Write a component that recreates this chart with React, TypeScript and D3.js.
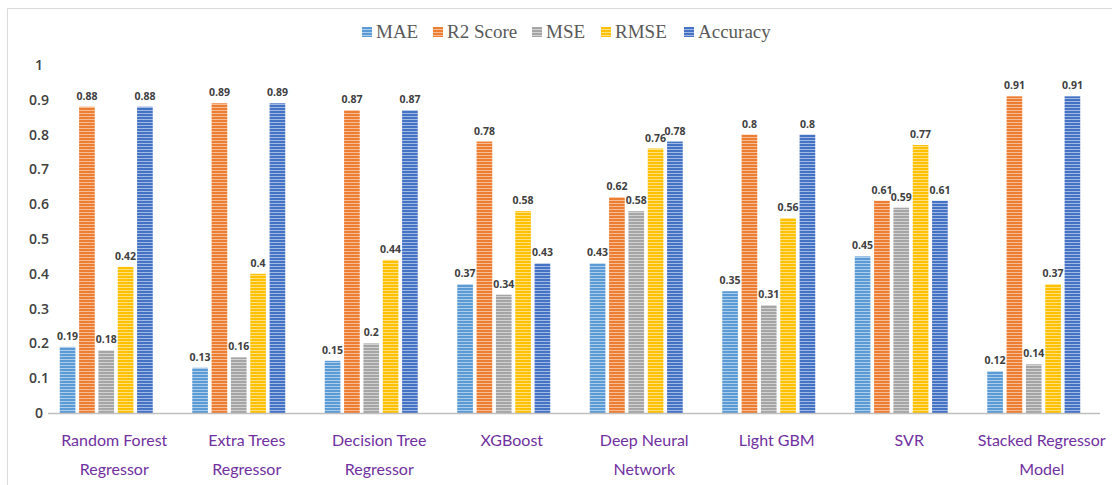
import React from "react";
import * as d3 from "d3";

const categories = [
  ["Random Forest", "Regressor"],
  ["Extra Trees", "Regressor"],
  ["Decision Tree", "Regressor"],
  ["XGBoost"],
  ["Deep Neural", "Network"],
  ["Light GBM"],
  ["SVR"],
  ["Stacked Regressor", "Model"],
];

const seriesNames = ["MAE", "R2 Score", "MSE", "RMSE", "Accuracy"];
const seriesColors = ["#5B9BD5", "#ED7D31", "#A5A5A5", "#FFC000", "#4472C4"];

const mae = [0.19, 0.13, 0.15, 0.37, 0.43, 0.35, 0.45, 0.12];
const r2 = [0.88, 0.89, 0.87, 0.78, 0.62, 0.8, 0.61, 0.91];
const mse = [0.18, 0.16, 0.2, 0.34, 0.58, 0.31, 0.59, 0.14];
const rmse = [0.42, 0.4, 0.44, 0.58, 0.76, 0.56, 0.77, 0.37];
const accuracy = [0.88, 0.89, 0.87, 0.43, 0.78, 0.8, 0.61, 0.91];

const yTicks = [0, 0.1, 0.2, 0.3, 0.4, 0.5, 0.6, 0.7, 0.8, 0.9, 1];

const W = 1112;
const H = 485;

export default function App() {
  const series = [mae, r2, mse, rmse, accuracy];
  const idx = categories.map((_, i) => String(i));

  const x0 = d3.scaleBand<string>().domain(idx).range([40, 1100]).paddingInner(0).paddingOuter(0);
  const groupW = 93;
  const x1 = d3
    .scaleBand<string>()
    .domain(seriesNames)
    .range([0, groupW])
    .paddingInner(0.19);
  const y = d3.scaleLinear().domain([0, 1]).range([413, 65]);

  const groupStart = (i: number) => x0(String(i))! + (x0.bandwidth() - groupW) / 2;

  const legendX = [362, 433, 532, 601, 684];

  return (
    <svg
      width={W}
      height={H}
      style={{ position: "absolute", left: 0, top: 0, background: "#fff" }}
    >
      <defs>
        {seriesColors.map((c, k) => (
          <pattern
            key={k}
            id={`stripe-${k}`}
            patternUnits="userSpaceOnUse"
            width={4}
            height={3}
          >
            <rect width={4} height={3} fill={c} />
            <rect y={2} width={4} height={1} fill="#ffffff" opacity={0.5} />
          </pattern>
        ))}
      </defs>

      {/* frame */}
      <line x1={7.5} x2={W} y1={8.5} y2={8.5} stroke="#d9d9d9" />
      <line x1={7.5} x2={7.5} y1={8.5} y2={H} stroke="#d9d9d9" />

      {/* legend */}
      {seriesNames.map((n, k) => (
        <g key={n} transform={`translate(${legendX[k]},0)`}>
          <rect x={0} y={27} width={10} height={10} fill={`url(#stripe-${k})`} />
          <text
            x={14}
            y={38}
            fontFamily="'Liberation Serif', serif"
            fontSize={19}
            fill="#595959"
          >
            {n}
          </text>
        </g>
      ))}

      {/* y tick labels */}
      {yTicks.map((t) => (
        <text
          key={t}
          x={39}
          y={y(t) + 5}
          textAnchor="middle"
          fontFamily="'Open Sans', sans-serif"
          fontWeight={600}
          fontSize={14}
          fill="#404040"
        >
          {String(t)}
        </text>
      ))}

      {/* bars */}
      {categories.map((_, i) => (
        <g key={i} transform={`translate(${groupStart(i)},0)`}>
          {series.map((vals, k) => {
            const v = vals[i];
            const bx = x1(seriesNames[k])!;
            const bw = x1.bandwidth();
            return (
              <g key={k}>
                <rect
                  x={bx}
                  y={y(v)}
                  width={bw}
                  height={y(0) - y(v)}
                  fill={`url(#stripe-${k})`}
                />
                <text
                  x={bx + bw / 2}
                  y={y(v) - 7}
                  textAnchor="middle"
                  fontFamily="'Open Sans', sans-serif"
                  fontWeight={700}
                  fontSize={10.5}
                  fill="#404040"
                >
                  {String(v)}
                </text>
              </g>
            );
          })}
        </g>
      ))}

      {/* baseline */}
      <line x1={48} x2={1100} y1={y(0) + 0.5} y2={y(0) + 0.5} stroke="#bfbfbf" strokeWidth={1.5} />

      {/* category labels */}
      {categories.map((lines, i) => (
        <text
          key={i}
          x={x0(String(i))! + x0.bandwidth() / 2 + 8}
          textAnchor="middle"
          fontFamily="Lato, sans-serif"
          fontSize={16}
          fill="#7030A0"
        >
          {lines.map((l, j) => (
            <tspan key={j} x={x0(String(i))! + x0.bandwidth() / 2 + 8} y={446 + j * 29}>
              {l}
            </tspan>
          ))}
        </text>
      ))}
    </svg>
  );
}
